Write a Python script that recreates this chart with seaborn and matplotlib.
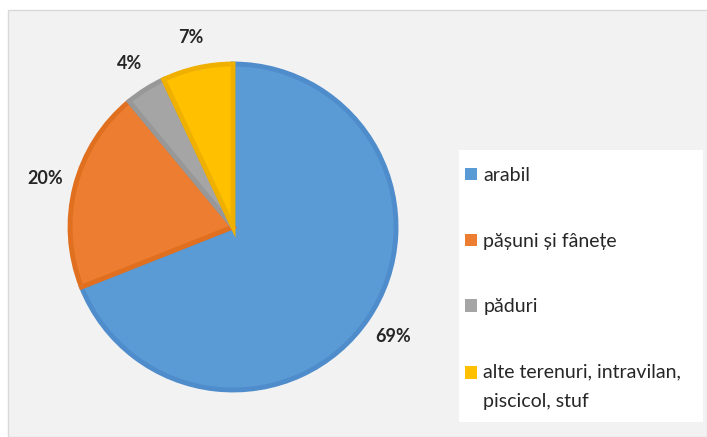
import matplotlib.pyplot as plt
import matplotlib.patches as mpatches
import seaborn as sns

categorii = ['arabil', 'pășuni și fânețe', 'păduri', 'alte terenuri, intravilan,\npiscicol, stuf']
procente = [69, 20, 4, 7]
culori = ['#5b9bd5', '#ed7d31', '#a5a5a5', '#ffc000']
margini = ['#4f8ccb', '#e0701f', '#989898', '#f0b000']

sns.set_theme(style="white")
plt.rcParams['font.family'] = ['Lato', 'DejaVu Sans']

fig = plt.figure(figsize=(7.07, 4.37), dpi=100)
fig.patch.set_facecolor('white')

# fundalul graficului (zona gri cu chenar)
fundal = mpatches.Rectangle((8 / 707, 0), 1 - 8 / 707, 1 - 10 / 437, transform=fig.transFigure,
                            facecolor='#f2f2f2', edgecolor='#d9d9d9', linewidth=1, zorder=-5)
fig.patches.append(fundal)
# caseta alba a legendei
caseta = mpatches.Rectangle((459 / 707, 1 - 422 / 437), 244 / 707, 272 / 437, transform=fig.transFigure,
                            facecolor='white', edgecolor='none', zorder=-4)
fig.patches.append(caseta)

ax = fig.add_axes([0.0414, 0.0143, 0.5764, 0.9325])
ax.set_facecolor('none')

wedges, texts, autotexts = ax.pie(
    procente, colors=culori, startangle=90, counterclock=False,
    autopct='%1.0f%%', pctdistance=1.19,
    wedgeprops=dict(linewidth=3.5),
    textprops=dict(fontsize=13, fontweight='bold', color='#262626'))
for w, m in zip(wedges, margini):
    w.set_edgecolor(m)
    w.set_joinstyle('miter')

ax.set_xlim(-1.25, 1.25)
ax.set_ylim(-1.25, 1.25)
ax.set_aspect('equal')

leg = fig.legend(wedges, categorii, loc='upper left',
                 bbox_to_anchor=(465 / 707, 1 - 167 / 437),
                 frameon=False, fontsize=14,
                 handlelength=0.6, handleheight=0.6, handletextpad=0.35,
                 labelspacing=2.5, borderpad=0, borderaxespad=0)
for h in leg.legend_handles:
    h.set_linewidth(0)
for t in leg.get_texts():
    t.set_color('#262626')
    t.set_linespacing(1.85)
# patratelul ultimei intrari aliniat cu primul rand de text
ultim = leg.legend_handles[-1]
ultim.set_y(ultim.get_y() + 10.5)

fig.savefig('out.png', dpi=100)
